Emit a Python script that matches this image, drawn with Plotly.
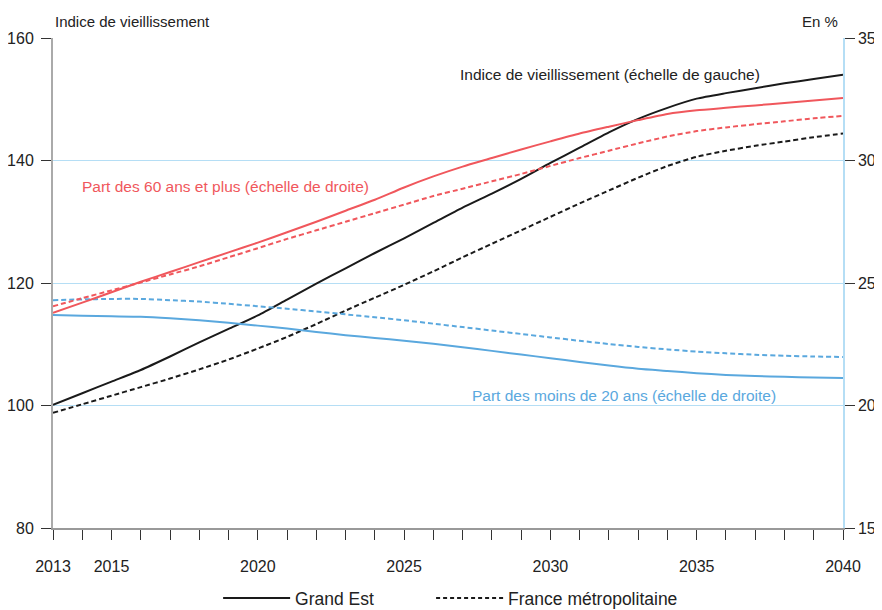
import plotly.graph_objects as go

years = list(range(2013, 2041))

indice_grand_est = [100.1, 102.0, 103.9, 105.8, 108.0, 110.3, 112.5, 114.7, 117.3, 119.9,
                    122.4, 124.9, 127.3, 129.8, 132.3, 134.6, 137.0, 139.6, 142.1, 144.6,
                    146.8, 148.6, 150.1, 151.0, 151.8, 152.6, 153.3, 154.0]
indice_france = [98.8, 100.2, 101.6, 103.0, 104.4, 105.9, 107.5, 109.3, 111.2, 113.3,
                 115.5, 117.6, 119.7, 121.9, 124.2, 126.4, 128.6, 130.8, 133.0, 135.1,
                 137.2, 139.1, 140.6, 141.6, 142.4, 143.1, 143.8, 144.4]
part60_grand_est = [23.78, 24.2, 24.62, 25.05, 25.45, 25.85, 26.25, 26.65, 27.07, 27.5,
                    27.95, 28.4, 28.9, 29.35, 29.75, 30.1, 30.45, 30.78, 31.1, 31.38,
                    31.65, 31.9, 32.05, 32.15, 32.25, 32.35, 32.45, 32.55]
part60_france = [24.05, 24.38, 24.7, 25.02, 25.35, 25.68, 26.05, 26.42, 26.8, 27.15,
                 27.5, 27.85, 28.2, 28.55, 28.85, 29.15, 29.45, 29.78, 30.1, 30.4,
                 30.7, 30.98, 31.2, 31.35, 31.48, 31.6, 31.72, 31.82]
part20_grand_est = [23.69, 23.66, 23.64, 23.62, 23.56, 23.48, 23.38, 23.26, 23.14, 23.0,
                    22.87, 22.76, 22.64, 22.52, 22.38, 22.23, 22.08, 21.93, 21.78, 21.63,
                    21.5, 21.41, 21.32, 21.25, 21.2, 21.17, 21.14, 21.12]
part20_france = [24.3, 24.33, 24.35, 24.35, 24.3, 24.24, 24.15, 24.05, 23.95, 23.84,
                 23.72, 23.6, 23.48, 23.34, 23.2, 23.06, 22.92, 22.78, 22.64, 22.51,
                 22.39, 22.29, 22.2, 22.13, 22.07, 22.03, 22.0, 21.98]

labeled_years = [2013, 2015, 2020, 2025, 2030, 2035, 2040]
tick_text = [str(y) if y in labeled_years else "" for y in years]

left_ticks = [80, 100, 120, 140, 160]
right_ticks = [15, 20, 25, 30, 35]

FONT = "Liberation Sans Narrow, Arial Narrow, Liberation Sans, Arial, sans-serif"
BLACK = "#1a1a1a"
RED = "#f0575c"
BLUE = "#5aa8de"
GRID = "#b5def5"
DASH = "5px,3px"

fig = go.Figure()

def add(y, color, dash, axis):
    fig.add_trace(go.Scatter(x=years, y=y, mode="lines", yaxis=axis,
                             line=dict(color=color, width=2, dash=dash, shape="spline", smoothing=0.6),
                             showlegend=False, hoverinfo="skip"))

add(part20_france, BLUE, DASH, "y2")
add(part20_grand_est, BLUE, "solid", "y2")
add(part60_france, RED, DASH, "y2")
add(part60_grand_est, RED, "solid", "y2")
add(indice_france, BLACK, DASH, "y")
add(indice_grand_est, BLACK, "solid", "y")

# legend entries
fig.add_trace(go.Scatter(x=[None], y=[None], mode="lines", name="Grand Est",
                         legend="legend", line=dict(color=BLACK, width=2)))
fig.add_trace(go.Scatter(x=[None], y=[None], mode="lines", name="France métropolitaine",
                         legend="legend2", line=dict(color=BLACK, width=2, dash="4px,3px")))

legend_common = dict(orientation="h", xanchor="left", y=-0.143, yanchor="middle",
                     font=dict(size=17.5), itemwidth=67, bgcolor="rgba(0,0,0,0)")

fig.update_layout(
    width=882, height=610,
    margin=dict(l=45, r=47, t=30, b=90, autoexpand=False),
    paper_bgcolor="white", plot_bgcolor="white",
    font=dict(family=FONT, size=16, color="#222"),
    showlegend=True,
    legend=dict(x=0.209, **legend_common),
    legend2=dict(x=0.4786, **legend_common),
    xaxis=dict(range=[2013, 2040], tickvals=years, ticktext=tick_text,
               ticks="outside", ticklen=10, tickcolor="#333", tickwidth=1,
               ticklabelstandoff=13, automargin=False,
               showline=True, linecolor="#999", linewidth=1.5,
               showgrid=False, zeroline=False, tickfont=dict(size=16)),
    yaxis=dict(range=[80, 160], tickvals=left_ticks, ticks="outside", ticklen=10,
               tickcolor="#333", showline=True, linecolor="#aaa", linewidth=2,
               showgrid=True, gridcolor=GRID, gridwidth=1, zeroline=False, automargin=False,
               tickfont=dict(size=16), ticklabelstandoff=4),
    yaxis2=dict(range=[15, 35], tickvals=right_ticks, overlaying="y", side="right",
                ticks="outside", ticklen=10, tickcolor="#333", showline=True, automargin=False,
                linecolor=GRID, linewidth=1.5, showgrid=False, zeroline=False,
                tickfont=dict(size=16)),
    annotations=[
        dict(text="Indice de vieillissement", xref="paper", yref="paper", x=0, y=1.0327,
             xanchor="left", yanchor="middle", showarrow=False, font=dict(size=15, color="#222")),
        dict(text="En %", xref="paper", yref="paper", x=0.9962, y=1.0327,
             xanchor="right", yanchor="middle", showarrow=False, font=dict(size=15, color="#222")),
        dict(text="Indice de vieillissement (échelle de gauche)", xref="paper", yref="paper",
             x=0.5127, y=0.9245, xanchor="left", yanchor="middle", showarrow=False,
             font=dict(size=15.5, color="#222")),
        dict(text="Part des 60 ans et plus (échelle de droite)", xref="paper", yref="paper",
             x=0.0342, y=0.696, xanchor="left", yanchor="middle", showarrow=False,
             font=dict(size=15.5, color=RED)),
        dict(text="Part des moins de 20 ans (échelle de droite)", xref="paper", yref="paper",
             x=0.528, y=0.2714, xanchor="left", yanchor="middle", showarrow=False,
             font=dict(size=15.5, color=BLUE)),
    ],
)

fig.write_html("out.html")
